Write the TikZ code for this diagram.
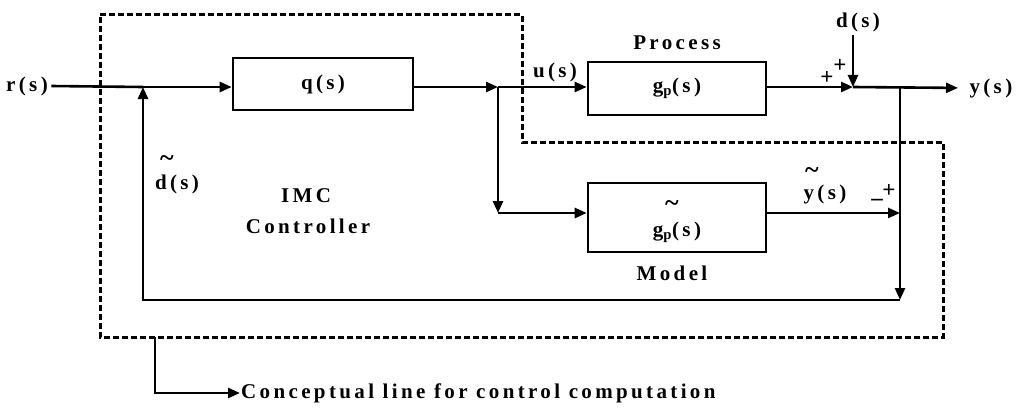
\documentclass[tikz,border=0pt]{standalone}
\usepackage{fontspec}
\setmainfont{Liberation Serif}[LetterSpace=16]
\usetikzlibrary{arrows.meta}
\begin{document}
\begin{tikzpicture}[x=1pt,y=-1pt,
  font=\fontsize{21}{23}\selectfont\bfseries,
  ln/.style={line width=2.6pt},
  sig/.style={line width=2.6pt,-{Triangle[length=12pt,width=10pt]}},
  block/.style={draw,line width=2.6pt,inner sep=0pt},
  bound/.style={line width=3pt,dash pattern=on 6pt off 3pt},
  sign/.style={font=\fontsize{23}{23}\selectfont\bfseries,inner sep=0pt},
  tld/.style={font=\fontsize{26}{26}\selectfont\bfseries,inner sep=0pt}]
\useasboundingbox (0,0) rectangle (1020,412);
% dashed IMC boundary
\draw[bound] (100,15) -- (522,15) -- (522,142) -- (943,142) -- (943,337) -- (100,337) -- cycle;
% blocks
\node[block,minimum width=180pt,minimum height=52pt] (q) at (323,84) {q(s)};
\node[block,minimum width=178pt,minimum height=53pt] (gp) at (677,88.5) {g\textsubscript{p}(s)};
\node[block,minimum width=178pt,minimum height=69pt] (gm) at (677,217.5) {};
\node[tld] (gmt) at (672,206) {\textasciitilde};
\node (gml) at (677,232) {g\textsubscript{p}(s)};
% coordinates
\coordinate (s1) at (143,87);
\coordinate (b1) at (498,87);
\coordinate (s2) at (853,87);
\coordinate (b2) at (900,87);
\coordinate (c1) at (498,213);
\coordinate (c2) at (900,213);
\coordinate (c3) at (900,300);
\coordinate (c4) at (143,300);
% signal labels
\node (r) at (27,86) {r(s)};
\node[anchor=west] (y) at (966,88) {y(s)};
\node (d) at (858,22) {d(s)};
\node (u) at (555,72) {u(s)};
\node (proc) at (677,43) {Process};
\node (model) at (672,273) {Model};
\node (imc) at (306,196) {IMC};
\node (ctrl) at (308,226) {Controller};
\node[tld] (dt) at (167,161) {\textasciitilde};
\node (dh) at (177,184) {d(s)};
\node[tld] (yt) at (812,173) {\textasciitilde};
\node (yh) at (825,194) {y(s)};
\node[sign] (pl1) at (840,66) {+};
\node[sign] (pl2) at (827,78) {+};
\node[sign] (pl3) at (889,191) {+};
\node[sign] (mi) at (877,202) {–};
% connectors
\draw[ln] (r.east) -- (s1);
\draw[sig] (s1) -- (q.west |- s1);
\draw[sig] (q.east |- b1) -- (b1);
\draw[sig] (b1) -- (gp.west |- b1);
\draw[sig] (gp.east |- s2) -- (s2);
\draw[sig,shorten >=8pt] (s2) -- (y.west);
\draw[sig] (d.south -| s2) -- (s2);
\draw[sig] (b1) -- (c1);
\draw[sig] (c1) -- (gm.west |- c1);
\draw[sig] (gm.east |- c2) -- (c2);
\draw[sig] (b2) -- (c3);
\draw[sig] (c3) -- (c4) -- (s1);
% conceptual line
\coordinate (k0) at (155,337);
\coordinate (k1) at (155,393);
\node[anchor=west,inner sep=1pt] (concept) at (240,393) {Conceptual line for control computation};
\draw[sig] (k0) -- (k1) -- (concept.west);
\end{tikzpicture}
\end{document}
